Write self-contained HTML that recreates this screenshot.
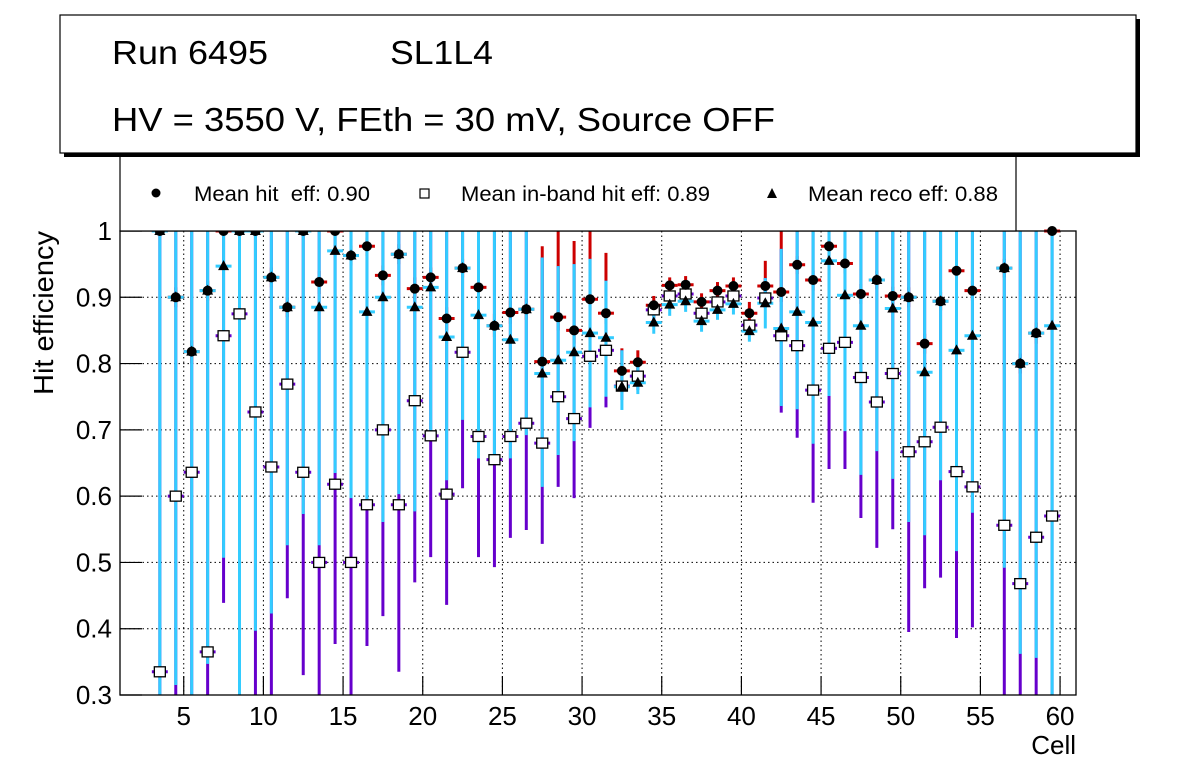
<!DOCTYPE html>
<html><head><meta charset="utf-8"><style>
html,body{margin:0;padding:0;background:#fff;}
svg{display:block;font-family:"Liberation Sans",Arial,sans-serif;}
</style></head><body>
<svg id="chart" width="1196" height="772" viewBox="0 0 1196 772" xmlns="http://www.w3.org/2000/svg">
  <rect x="0" y="0" width="1196" height="772" fill="#fff"/>
  <g id="grid"></g>
  <g id="bars"></g>
  <g id="marks"></g>
  <rect x="120" y="231" width="956" height="464" fill="none" stroke="#000" stroke-width="1.3"/>
  <g id="axes"></g>
  <text transform="translate(53,395) rotate(-90)" font-size="28" text-anchor="start" textLength="164" lengthAdjust="spacingAndGlyphs">Hit efficiency</text>
  <text x="1076" y="754" font-size="26" text-anchor="end">Cell</text>
  <g>
    <rect x="120" y="150" width="896" height="81" fill="#fff" stroke="#000" stroke-width="1.2"/>
    <circle cx="156" cy="193" r="4.5" fill="#000"/>
    <text x="194" y="201" font-size="21" xml:space="preserve" textLength="176" lengthAdjust="spacingAndGlyphs">Mean hit  eff: 0.90</text>
    <rect x="420" y="189" width="9" height="9" fill="#fff" stroke="#000" stroke-width="1.2"/>
    <text x="461" y="201" font-size="21" textLength="249" lengthAdjust="spacingAndGlyphs">Mean in-band hit eff: 0.89</text>
    <polygon points="772,188 767,198 777,198" fill="#000"/>
    <text x="808" y="201" font-size="21" textLength="190" lengthAdjust="spacingAndGlyphs">Mean reco eff: 0.88</text>
  </g>
  <g>
    <rect x="64" y="19" width="1076" height="138" fill="#000"/>
    <rect x="60" y="15" width="1076" height="138" fill="#fff" stroke="#000" stroke-width="1.2"/>
    <text x="112" y="64" font-size="33" textLength="156" lengthAdjust="spacingAndGlyphs">Run 6495</text>
    <text x="390" y="64" font-size="33" textLength="103" lengthAdjust="spacingAndGlyphs">SL1L4</text>
    <text x="112" y="131" font-size="33" textLength="663" lengthAdjust="spacingAndGlyphs">HV = 3550 V, FEth = 30 mV, Source OFF</text>
  </g>
</svg>
<script>
const cells = [3.5,4.5,5.5,6.5,7.5,8.5,9.5,10.5,11.5,12.5,13.5,14.5,15.5,16.5,17.5,18.5,19.5,20.5,21.5,22.5,23.5,24.5,25.5,26.5,27.5,28.5,29.5,30.5,31.5,32.5,33.5,34.5,35.5,36.5,37.5,38.5,39.5,40.5,41.5,42.5,43.5,44.5,45.5,46.5,47.5,48.5,49.5,50.5,51.5,52.5,53.5,54.5,56.5,57.5,58.5,59.5];
const hitEff = [1.0,0.90,0.818,0.91,1.0,1.0,1.0,0.93,0.885,1.0,0.923,1.0,0.963,0.977,0.933,0.965,0.913,0.93,0.868,0.944,0.915,0.857,0.877,0.882,0.803,0.87,0.85,0.897,0.876,0.789,0.802,0.888,0.918,0.919,0.893,0.91,0.917,0.876,0.917,0.908,0.949,0.926,0.977,0.951,0.905,0.926,0.902,0.9,0.83,0.894,0.94,0.91,0.944,0.80,0.846,1.0];
const inbandEff = [0.335,0.60,0.636,0.365,0.842,0.875,0.727,0.644,0.769,0.636,0.50,0.618,0.50,0.587,0.70,0.587,0.744,0.691,0.603,0.817,0.69,0.655,0.69,0.71,0.68,0.75,0.717,0.811,0.82,0.766,0.781,0.881,0.902,0.905,0.876,0.893,0.902,0.858,0.899,0.842,0.827,0.76,0.823,0.832,0.779,0.742,0.785,0.667,0.682,0.704,0.637,0.614,0.556,0.468,0.538,0.57];
const recoEff = [1.0,0.90,0.818,0.91,0.947,1.0,1.0,0.93,0.885,1.0,0.885,0.97,0.963,0.878,0.90,0.965,0.885,0.915,0.84,0.944,0.873,0.857,0.836,0.882,0.785,0.805,0.817,0.846,0.839,0.765,0.771,0.862,0.889,0.894,0.864,0.881,0.89,0.849,0.891,0.853,0.878,0.862,0.955,0.903,0.857,0.926,0.883,0.9,0.787,0.894,0.82,0.842,0.944,0.80,0.846,0.857];
// error bar ends (efficiency units)
const recoLow = [0.3,0.315,0.3,0.347,0.507,0.3,0.397,0.423,0.526,0.573,0.526,0.635,0.597,0.58,0.561,0.603,0.577,0.683,0.624,0.715,0.657,0.657,0.657,0.692,0.614,0.662,0.683,0.734,0.75,0.73,0.754,0.845,0.872,0.878,0.848,0.866,0.874,0.833,0.853,0.736,0.731,0.679,0.751,0.698,0.632,0.668,0.626,0.561,0.541,0.624,0.517,0.575,0.492,0.362,0.356,0.3];
const recoHigh = [1,1,1,1,1,1,1,1,1,1,1,1,1,1,1,1,1,1,1,1,1,1,1,1,0.96,0.947,0.95,0.958,0.925,0.82,0.8,0.88,0.905,0.91,0.88,0.897,0.906,0.866,0.929,0.973,1,1,1,1,1,1,1,1,1,1,1,1,1,1,1,1];
const inbandLow = [0.3,0.3,0.3,0.3,0.439,0.3,0.3,0.3,0.446,0.33,0.3,0.377,0.3,0.374,0.419,0.335,0.47,0.508,0.436,0.612,0.508,0.493,0.537,0.549,0.528,0.614,0.597,0.703,0.734,0.745,0.76,0.865,0.887,0.89,0.86,0.878,0.887,0.843,0.884,0.726,0.688,0.59,0.641,0.641,0.567,0.522,0.55,0.395,0.461,0.477,0.386,0.402,0.3,0.3,0.3,0.3];
const hitLow = [1,0.885,0.8,0.895,1,1,1,0.915,0.87,1,0.905,1,0.948,0.962,0.918,0.95,0.897,0.915,0.85,0.93,0.9,0.84,0.86,0.866,0.78,0.85,0.83,0.88,0.86,0.775,0.79,0.874,0.905,0.906,0.88,0.897,0.905,0.86,0.903,0.893,0.935,0.91,0.963,0.936,0.89,0.912,0.888,0.885,0.815,0.88,0.925,0.895,0.93,0.785,0.83,1];
const hitHigh = [1,0.915,0.835,0.925,1,1,1,0.945,0.9,1,0.94,1,0.978,0.99,0.948,0.98,0.93,0.945,0.885,0.958,0.93,0.875,0.895,0.898,0.977,1,0.985,1,0.967,0.823,0.82,0.902,0.93,0.932,0.906,0.923,0.93,0.893,0.955,1,0.962,0.94,0.99,0.966,0.92,0.94,0.916,0.915,0.845,0.908,0.955,0.925,0.958,0.815,0.862,1];
const xTicks = [5,10,15,20,25,30,35,40,45,50,55,60];
const yTicks = [0.3,0.4,0.5,0.6,0.7,0.8,0.9,1.0];
const yTickLabels = ["0.3","0.4","0.5","0.6","0.7","0.8","0.9","1"];

const X0=120,X1=1076,Y0=695,Y1=231,XMIN=1,XMAX=61,YMIN=0.3,YMAX=1.0;
function xs(v){return X0+(v-XMIN)/(XMAX-XMIN)*(X1-X0);}
function ys(v){v=Math.max(YMIN,Math.min(YMAX,v));return Y0-(v-YMIN)/(YMAX-YMIN)*(Y0-Y1);}
const NS="http://www.w3.org/2000/svg";
function mk(tag,attrs,parent){const e=document.createElementNS(NS,tag);for(const k in attrs)e.setAttribute(k,attrs[k]);parent.appendChild(e);return e;}
const grid=document.getElementById('grid'),axes=document.getElementById('axes'),bars=document.getElementById('bars'),marks=document.getElementById('marks');

xTicks.forEach((t,i)=>{
  const x=xs(t);
  const g=mk('line',{x1:x,x2:x,y1:Y1,y2:Y0,stroke:'#000','stroke-width':1,'stroke-dasharray':'1.5,3'},grid);
  
  
  const tk=mk('line',{x1:x,x2:x,y1:Y0,y2:Y0-19,stroke:'#000','stroke-width':1.2},axes);
  
  
  const lb=mk('text',{x:x,y:725,'font-size':26,'text-anchor':'middle'},axes);
  lb.textContent=String(t);
  
  
});
yTicks.forEach((t,i)=>{
  const y=ys(t);
  if(i>0&&i<yTicks.length-1){
    const g=mk('line',{x1:X0,x2:X1,y1:y,y2:y,stroke:'#000','stroke-width':1,'stroke-dasharray':'1.5,3'},grid);
    
    
  }
  const tk=mk('line',{x1:X0,x2:X0+22,y1:y,y2:y,stroke:'#000','stroke-width':1.2},axes);
  
  
  const lb=mk('text',{x:112,y:y+9,'font-size':26,'text-anchor':'end'},axes);
  lb.textContent=yTickLabels[i];
  
  
});

const HW=(xs(1.5)-xs(1))*1.0;
function errbar(x,yv,lo,hi,color,name){
  const v=mk('line',{x1:x,x2:x,y1:ys(lo),y2:ys(hi),stroke:color,'stroke-width':3},bars);
  
  
  const h=mk('line',{x1:x-HW,x2:x+HW,y1:ys(yv),y2:ys(yv),stroke:color,'stroke-width':3},bars);
  
  
}
cells.forEach((c,i)=>{ errbar(xs(c),hitEff[i],hitLow[i],hitHigh[i],'#cc0000','hit-error-bar'); });
cells.forEach((c,i)=>{ errbar(xs(c),inbandEff[i],inbandLow[i],recoHigh[i],'#6600cc','inband-error-bar'); });
cells.forEach((c,i)=>{ errbar(xs(c),recoEff[i],recoLow[i],recoHigh[i],'#33ccff','reco-error-bar'); });

cells.forEach((c,i)=>{
  const x=xs(c);
  if(inbandEff[i]>=YMIN){
    const s=mk('rect',{x:x-5.5,y:ys(inbandEff[i])-5,width:11,height:10,fill:'#fff',stroke:'#000','stroke-width':1.3},marks);
    
    
  }
  const y=ys(recoEff[i]);
  const t=mk('polygon',{points:`${x},${y-6} ${x-5.5},${y+4} ${x+5.5},${y+4}`,fill:'#000'},marks);
  
  
  const d=mk('circle',{cx:x,cy:ys(hitEff[i]),r:5,fill:'#000'},marks);
  
  
});
</script>
</body></html>
